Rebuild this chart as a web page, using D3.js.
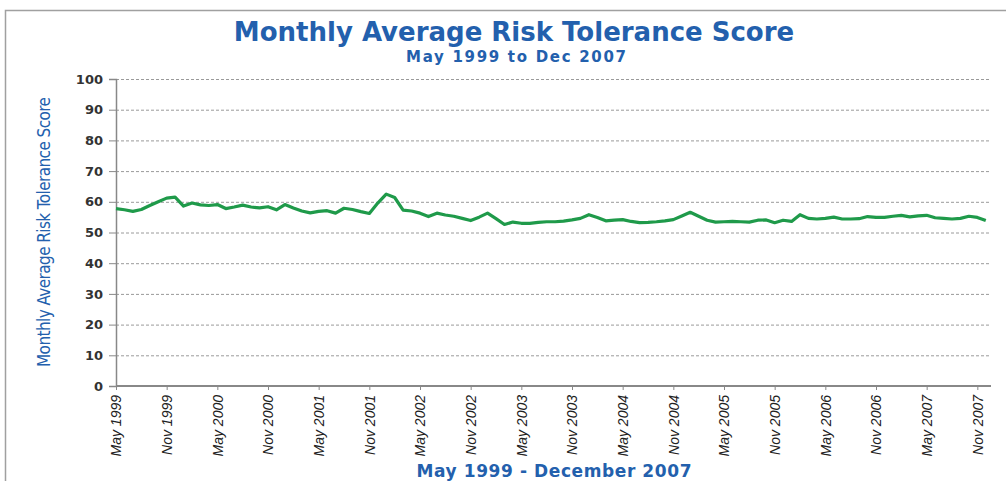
<!DOCTYPE html>
<html>
<head>
<meta charset="utf-8">
<script src="https://cdn.jsdelivr.net/npm/d3@7"></script>
<style>
  body { margin: 0; background: #fff; }
  text { font-family: Verdana, "DejaVu Sans", sans-serif; }
</style>
</head>
<body>
<svg id="chart" width="1006" height="481"></svg>
<script>
// monthly scores, May 1999 .. Dec 2007
var scores = [
  57.8, 57.4, 56.9, 57.5, 58.8, 60.0, 61.2, 61.5, 58.6, 59.6,
  59.0, 58.8, 59.1, 57.8, 58.3, 58.9, 58.3, 58.0, 58.4, 57.4,
  59.1, 58.0, 57.0, 56.4, 56.9, 57.1, 56.3, 57.9, 57.5, 56.8,
  56.2, 59.6, 62.5, 61.4, 57.3, 57.0, 56.3, 55.2, 56.3, 55.7,
  55.3, 54.6, 53.9, 55.0, 56.3, 54.5, 52.6, 53.4, 53.0, 53.0,
  53.3, 53.5, 53.5, 53.7, 54.1, 54.6, 55.8, 54.9, 53.8, 54.0,
  54.2, 53.6, 53.2, 53.3, 53.5, 53.8, 54.2, 55.4, 56.6, 55.3,
  54.0, 53.4, 53.5, 53.6, 53.5, 53.4, 54.0, 54.1, 53.2, 54.0,
  53.6, 55.8, 54.6, 54.4, 54.6, 55.0, 54.4, 54.4, 54.5, 55.2,
  54.9, 54.9, 55.3, 55.6, 55.1, 55.4, 55.6, 54.8, 54.6, 54.4,
  54.6, 55.3, 54.9, 53.9
];

// every 6th month gets a label
var tickLabels = [
  "May 1999", "Nov 1999", "May 2000", "Nov 2000", "May 2001", "Nov 2001",
  "May 2002", "Nov 2002", "May 2003", "Nov 2003", "May 2004", "Nov 2004",
  "May 2005", "Nov 2005", "May 2006", "Nov 2006", "May 2007", "Nov 2007"
];
var yTicks = [0, 10, 20, 30, 40, 50, 60, 70, 80, 90, 100];

var svg = d3.select("#chart");
var blue = "#2360ad";

// outer frame
svg.append("rect")
    .attr("x", 5.5).attr("y", 10.5)
    .attr("width", 1010).attr("height", 480)
    .attr("fill", "none")
    .attr("stroke", "#a0a0a0")
    .attr("stroke-width", 1.5);

var x = d3.scaleLinear().domain([0, 103.5]).range([116, 990]);
var y = d3.scaleLinear().domain([0, 100]).range([386, 79]);

// gridlines
svg.append("g")
    .selectAll("line")
    .data(yTicks.filter(function (d) { return d > 0; }))
    .enter().append("line")
    .attr("x1", 116).attr("x2", 990)
    .attr("y1", function (d) { return y(d) + 0.5; })
    .attr("y2", function (d) { return y(d) + 0.5; })
    .attr("stroke", "#9a9a9a")
    .attr("stroke-width", 1)
    .attr("stroke-dasharray", "3,2");

// y axis
var yAxis = svg.append("g")
    .attr("transform", "translate(116,0)")
    .call(d3.axisLeft(y).tickValues(yTicks).tickSize(7).tickPadding(6));
yAxis.select(".domain").attr("stroke", "#888").attr("stroke-width", 1.5);
yAxis.selectAll(".tick line").attr("stroke", "#888");
yAxis.selectAll("text")
    .attr("fill", "#333")
    .style("font-size", "13px")
    .style("font-weight", "bold")
    .style("font-family", "Verdana, 'DejaVu Sans', sans-serif");

// x axis
var xAxis = svg.append("g")
    .attr("transform", "translate(0,386)")
    .call(d3.axisBottom(x)
        .tickValues(d3.range(0, tickLabels.length).map(function (i) { return i * 6; }))
        .tickFormat(function (d) { return tickLabels[d / 6]; })
        .tickSize(4)
        .tickSizeOuter(0));
xAxis.select(".domain")
    .attr("stroke", "#888").attr("stroke-width", 2)
    .attr("d", "M116,0H991");
xAxis.selectAll(".tick line").attr("stroke", "#888");
xAxis.selectAll("text")
    .attr("transform", "rotate(-90)")
    .attr("x", -9).attr("y", 0).attr("dy", "0.35em")
    .attr("text-anchor", "end")
    .attr("fill", "#222")
    .style("font-size", "14px")
    .style("font-style", "italic")
    .style("font-family", "'Liberation Sans Narrow', 'Liberation Sans', sans-serif");

// the series
var line = d3.line()
    .x(function (d, i) { return x(i); })
    .y(function (d) { return y(d); });

svg.append("path")
    .datum(scores)
    .attr("fill", "none")
    .attr("stroke", "#1f9a4a")
    .attr("stroke-width", 3.2)
    .attr("stroke-linejoin", "round")
    .attr("d", line);

// titles
svg.append("text")
    .attr("x", 514).attr("y", 41)
    .attr("text-anchor", "middle")
    .attr("fill", blue)
    .style("font-size", "26px")
    .style("font-weight", "bold")
    .text("Monthly Average Risk Tolerance Score");

svg.append("text")
    .attr("x", 516).attr("y", 62)
    .attr("text-anchor", "middle")
    .attr("fill", blue)
    .style("font-size", "15px")
    .style("font-weight", "bold")
    .attr("textLength", 220)
    .text("May 1999 to Dec 2007");

svg.append("text")
    .attr("transform", "translate(50,232) rotate(-90)")
    .attr("text-anchor", "middle")
    .attr("fill", blue)
    .style("font-size", "17px")
    .style("font-family", "'Liberation Sans Narrow', 'DejaVu Sans Condensed', sans-serif")
    .attr("textLength", 270)
    .text("Monthly Average Risk Tolerance Score");

svg.append("text")
    .attr("x", 554).attr("y", 477)
    .attr("text-anchor", "middle")
    .attr("fill", blue)
    .style("font-size", "17px")
    .style("font-weight", "bold")
    .attr("textLength", 275)
    .text("May 1999 - December 2007");
</script>
</body>
</html>
